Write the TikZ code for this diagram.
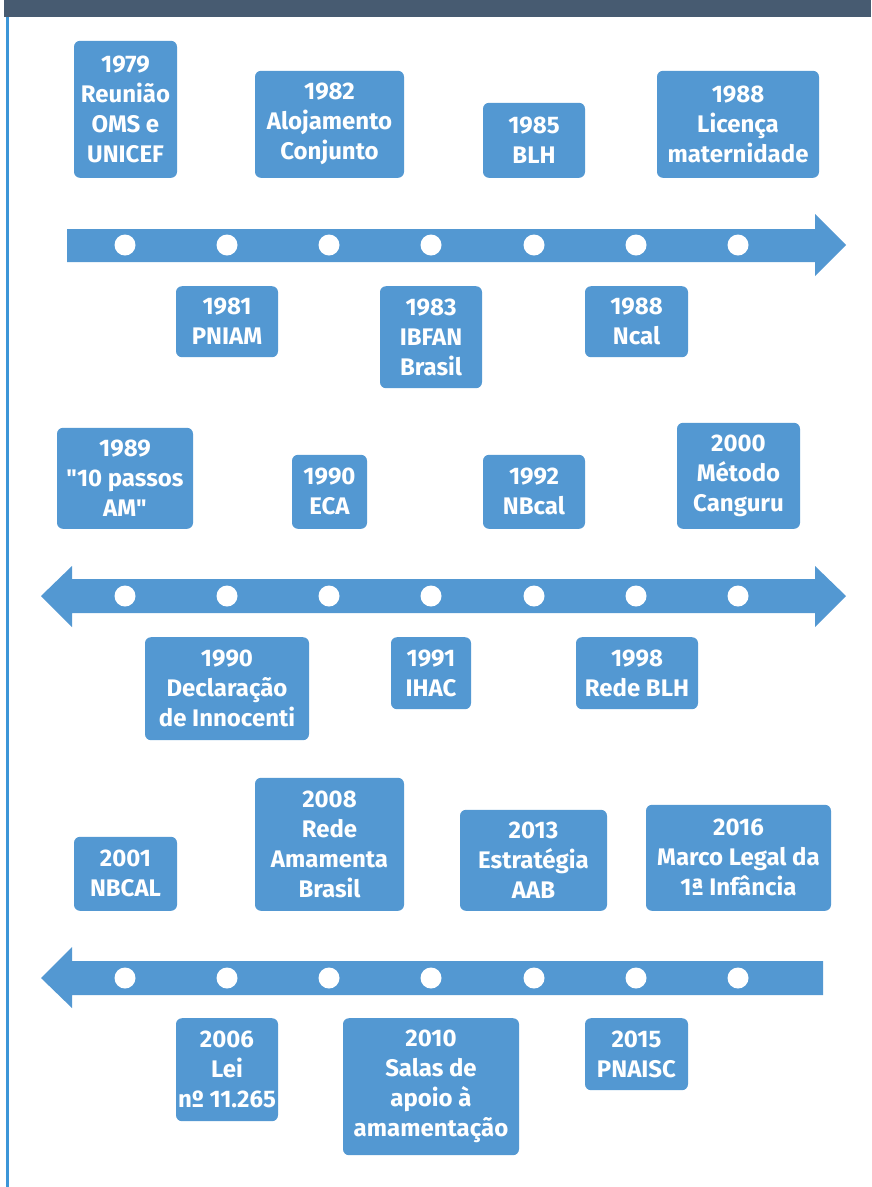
\documentclass[tikz,border=0pt]{standalone}
\usepackage{fontspec}
\setmainfont{Fira Sans}
\definecolor{azul}{HTML}{5398D2}
\definecolor{faixa}{HTML}{475B71}
\definecolor{borda}{HTML}{3C96D8}

\begin{document}
\begin{tikzpicture}[x=1pt, y=-1pt,
  caixa/.style={fill=azul, rounded corners=6pt, inner sep=0pt, align=center,
    text=white, font=\fontsize{24}{30}\selectfont\bfseries},
  seta/.style={fill=azul}]
  \useasboundingbox (0, 0) rectangle (871, 1187);

  % moldura
  \fill[faixa] (4, 0) rectangle (871, 17);
  \fill[borda] (6, 17) rectangle (9, 1187);

  % linha 1
  \fill[seta] (67, 229) -- (815, 229) -- (815, 214) -- (846, 245) -- (815, 276)
    -- (815, 262) -- (67, 262) -- cycle;
  \foreach \x in {125, 227, 329, 431, 534, 636, 738}
    \fill[white] (\x, 245) circle (10.5);

  \node[caixa, anchor=south, minimum width=103pt, minimum height=137pt] (y1979) at (125.5, 178) {1979\\Reunião\\OMS e\\UNICEF};
  \node[caixa, anchor=south, minimum width=149pt, minimum height=107pt] (y1982) at (329.5, 178) {1982\\Alojamento\\Conjunto};
  \node[caixa, anchor=south, minimum width=102pt, minimum height=75pt] (y1985) at (534, 178) {1985\\BLH};
  \node[caixa, anchor=south, minimum width=162pt, minimum height=107pt] (y1988a) at (738, 178) {1988\\Licença\\maternidade};

  \node[caixa, anchor=north, minimum width=102pt, minimum height=71pt] (y1981) at (227, 286) {1981\\PNIAM};
  \node[caixa, anchor=north, minimum width=102pt, minimum height=102pt] (y1983) at (431, 286) {1983\\IBFAN\\Brasil};
  \node[caixa, anchor=north, minimum width=103pt, minimum height=71pt] (y1988b) at (636.5, 286) {1988\\Ncal};

  % linha 2
  \fill[seta] (72, 579) -- (815, 579) -- (815, 566) -- (846, 596) -- (815, 627)
    -- (815, 613) -- (72, 613) -- (72, 627) -- (41, 596) -- (72, 566) -- cycle;
  \foreach \x in {125, 227, 329, 431, 534, 636, 738}
    \fill[white] (\x, 596) circle (10.5);

  \node[caixa, anchor=south, minimum width=136pt, minimum height=101pt] (y1989) at (125, 529) {1989\\\textquotedbl10 passos\\AM\textquotedbl};
  \node[caixa, anchor=south, minimum width=75pt, minimum height=74pt] (y1990a) at (329.5, 529) {1990\\ECA};
  \node[caixa, anchor=south, minimum width=102pt, minimum height=74pt] (y1992) at (534, 529) {1992\\NBcal};
  \node[caixa, anchor=south, minimum width=123pt, minimum height=106pt] (y2000) at (738.5, 529) {2000\\Método\\Canguru};

  \node[caixa, anchor=north, minimum width=164pt, minimum height=103pt] (y1990b) at (227, 637) {1990\\Declaração\\de Innocenti};
  \node[caixa, anchor=north, minimum width=80pt, minimum height=72pt] (y1991) at (431, 637) {1991\\IHAC};
  \node[caixa, anchor=north, minimum width=122pt, minimum height=72pt] (y1998) at (637, 637) {1998\\Rede BLH};

  % linha 3
  \fill[seta] (823, 961) -- (72, 961) -- (72, 947) -- (41, 978) -- (72, 1008)
    -- (72, 995) -- (823, 995) -- cycle;
  \foreach \x in {125, 227, 329, 431, 534, 636, 738}
    \fill[white] (\x, 978) circle (10.5);

  \node[caixa, anchor=south, minimum width=103pt, minimum height=74pt] (y2001) at (125.5, 911) {2001\\NBCAL};
  \node[caixa, anchor=south, minimum width=149pt, minimum height=133pt] (y2008) at (329.5, 911) {2008\\Rede\\Amamenta\\Brasil};
  \node[caixa, anchor=south, minimum width=147pt, minimum height=101pt] (y2013) at (533.5, 911) {2013\\Estratégia\\AAB};
  \node[caixa, anchor=south, minimum width=185pt, minimum height=106pt] (y2016) at (738.5, 911) {2016\\Marco Legal da\\1ª Infância};

  \node[caixa, anchor=north, minimum width=102pt, minimum height=103pt] (y2006) at (227, 1018) {2006\\Lei\\nº 11.265};
  \node[caixa, anchor=north, minimum width=176pt, minimum height=137pt] (y2010) at (431, 1018) {2010\\Salas de\\apoio à\\amamentação};
  \node[caixa, anchor=north, minimum width=103pt, minimum height=72pt] (y2015) at (636.5, 1018) {2015\\PNAISC};

\end{tikzpicture}
\end{document}
